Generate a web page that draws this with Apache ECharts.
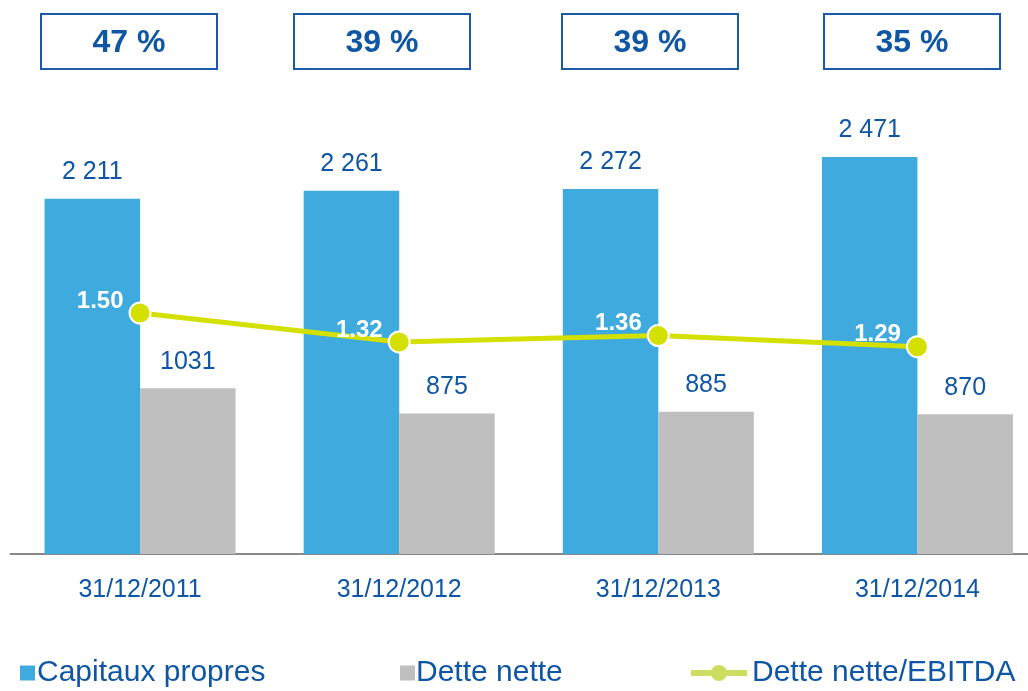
<!DOCTYPE html>
<html>
<head>
<meta charset="utf-8">
<script src="https://cdn.jsdelivr.net/npm/echarts@6/dist/echarts.min.js"></script>
<style>html,body{margin:0;padding:0;background:#fff;overflow:hidden}#c{width:1047px;height:691px}</style>
</head>
<body>
<div id="c"></div>
<script>
const categories = ['31/12/2011', '31/12/2012', '31/12/2013', '31/12/2014'];
const capitauxPropres = [2211, 2261, 2272, 2471];
const detteNette = [1031, 875, 885, 870];
const detteEbitda = [1.50, 1.32, 1.36, 1.29];
const ratioLabels = ['47 %', '39 %', '39 %', '35 %'];

const FONT = "'Liberation Sans', Arial, sans-serif";
const TXT = '#0f56a5';
const BLUE = '#3eaadd';
const GRAY = '#bfbfbf';
const LIME = '#d4e000';

const boxLefts = [40, 293, 561, 823];

const chart = echarts.init(document.getElementById('c'), null, {renderer: 'canvas'});

const fmtThousands = v => String(v).replace(/\B(?=(\d{3})+(?!\d))/g, ' ');

const graphic = ratioLabels.map((t, i) => ({
  type: 'group',
  left: boxLefts[i],
  top: 13,
  children: [
    {type: 'rect', shape: {x: 0, y: 0, width: 176, height: 55},
     style: {fill: '#fff', stroke: '#1a5aa8', lineWidth: 2}},
    {type: 'text', x: 88, y: 29,
     style: {text: t, fill: TXT, font: "bold 32px " + FONT, align: 'center', verticalAlign: 'middle'}}
  ]
}));

chart.setOption({
  animation: false,
  textStyle: {fontFamily: FONT},
  grid: {left: 10.5, right: 0, top: 72, bottom: 137, containLabel: false},
  xAxis: {
    type: 'category',
    data: categories,
    axisLine: {lineStyle: {color: '#888888', width: 2}},
    axisTick: {show: false},
    axisLabel: {color: TXT, fontSize: 25, fontFamily: FONT, margin: 24}
  },
  yAxis: [
    {type: 'value', min: 0, max: 3000, show: false, splitLine: {show: false}},
    {type: 'value', min: 0, max: 3, show: false, splitLine: {show: false}}
  ],
  legend: [
    {left: 15, top: 653, itemWidth: 15, itemHeight: 15, itemGap: 0,
     data: [{name: 'Capitaux propres', icon: 'rect'}],
     textStyle: {color: TXT, fontSize: 30, fontFamily: FONT, padding: [6, 0, 0, -3]}},
    {left: 395, top: 653, itemWidth: 15, itemHeight: 15,
     data: [{name: 'Dette nette', icon: 'rect'}],
     textStyle: {color: TXT, fontSize: 30, fontFamily: FONT, padding: [6, 0, 0, -4]}},
    {left: 683, top: 653, itemWidth: 56, itemHeight: 20,
     data: [{name: 'Dette nette/EBITDA'}],
     itemStyle: {color: '#cddd5f', borderWidth: 0},
     lineStyle: {color: '#cddd5f', width: 6},
     textStyle: {color: TXT, fontSize: 30, fontFamily: FONT, padding: [6, 0, 0, 0]}}
  ],
  graphic: graphic,
  series: [
    {
      name: 'Capitaux propres', type: 'bar', data: capitauxPropres,
      barWidth: 95.5, barGap: '0%',
      itemStyle: {color: BLUE},
      label: {show: true, position: 'top', distance: 14, color: TXT, fontSize: 25, fontFamily: FONT,
              formatter: p => fmtThousands(p.value)}
    },
    {
      name: 'Dette nette', type: 'bar', data: detteNette,
      barWidth: 95.5,
      itemStyle: {color: GRAY},
      label: {show: true, position: 'top', distance: 14, color: TXT, fontSize: 25, fontFamily: FONT}
    },
    {
      name: 'Dette nette/EBITDA', type: 'line', yAxisIndex: 1, data: detteEbitda,
      symbol: 'circle', symbolSize: 21,
      lineStyle: {color: LIME, width: 5},
      itemStyle: {color: LIME, borderColor: '#fff', borderWidth: 2},
      label: {show: true, position: 'left', distance: 5, offset: [0, -12],
              color: '#fff', fontWeight: 'bold', fontSize: 24, fontFamily: FONT,
              formatter: p => p.value.toFixed(2)},
      z: 5
    }
  ]
});
</script>
</body>
</html>
